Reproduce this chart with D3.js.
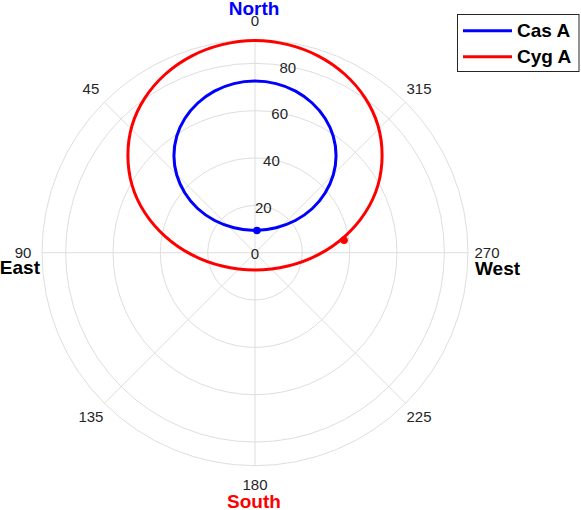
<!DOCTYPE html>
<html>
<head>
<meta charset="utf-8">
<script src="https://cdn.jsdelivr.net/npm/d3@7"></script>
<style>
  html, body { margin: 0; padding: 0; background: #fff; }
  svg { display: block; font-family: "Liberation Sans", Arial, Helvetica, sans-serif; }
</style>
</head>
<body>
<svg id="chart" width="581" height="510"></svg>
<script>
// ---- data (azimuth in degrees, counter-clockwise from North; zenith angle in degrees) ----
const azTicks = [0, 45, 90, 135, 180, 225, 270, 315];
const rTickLabels = [0, 20, 40, 60, 80];
const rGrid = [20, 40, 60, 80, 90];

const seriesNames = ["Cas A", "Cyg A"];
const seriesColors = ["#0000ff", "#ff0000"];

const casAz  = [0, 7.1, 14.1, 20.9, 27.6, 33.9, 39.9, 45.2, 49.6, 52.4, 51.4, 40.1, 0,
                319.9, 308.6, 307.6, 310.4, 314.8, 320.1, 326.1, 332.4, 339.1, 345.9, 352.9];
const casZen = [72.5, 72.0, 70.4, 67.7, 64.0, 59.3, 53.4, 46.6, 38.9, 30.6, 21.8, 13.8, 9.4,
                13.8, 21.8, 30.6, 38.9, 46.6, 53.4, 59.3, 64.0, 67.7, 70.4, 72.0];

const cygAz  = [0, 9.0, 17.9, 26.7, 35.5, 44.1, 52.6, 61.2, 70.0, 79.7, 91.8, 112.1, 180,
                247.9, 268.2, 280.3, 290.0, 298.8, 307.4, 315.9, 324.5, 333.3, 342.1, 351.0];
const cygZen = [89.7, 89.0, 87.3, 84.4, 80.2, 74.7, 67.6, 59.3, 49.6, 38.6, 26.8, 15.0, 7.3,
                15.0, 26.8, 38.6, 49.6, 59.3, 67.6, 74.7, 80.2, 84.4, 87.3, 89.0];

const casMarker = [355, 9.4];
const cygMarker = [278, 38];

const dirLabels = [
  {text: "North", az: 0,   color: "#0000ff"},
  {text: "East",  az: 90,  color: "#000000"},
  {text: "South", az: 180, color: "#ff0000"},
  {text: "West",  az: 270, color: "#000000"}
];

// ---- drawing ----
const svg = d3.select("#chart");
const cx = 255, cy = 252.7;
const r = d3.scaleLinear().domain([0, 90]).range([0, 213]);
const ang = d3.scaleLinear().domain([0, 360]).range([0, -2 * Math.PI]); // d3 radial: clockwise from top

const g = svg.append("g").attr("transform", `translate(${cx},${cy})`);
const gridColor = "#dedede";
const textColor = "#262626";

function xy(az, rv) {
  const a = ang(az);
  return [r(rv) * Math.sin(a), -r(rv) * Math.cos(a)];
}

// grid circles
g.selectAll("circle.grid").data(rGrid).join("circle")
  .attr("class", "grid").attr("r", d => r(d))
  .attr("fill", "none").attr("stroke", gridColor).attr("stroke-width", 1);

// radial spokes
g.selectAll("line.spoke").data(azTicks).join("line")
  .attr("class", "spoke")
  .attr("x1", 0).attr("y1", 0)
  .attr("x2", d => xy(d, 90)[0]).attr("y2", d => xy(d, 90)[1])
  .attr("stroke", gridColor).attr("stroke-width", 1);

// angle tick labels
g.selectAll("text.azt").data(azTicks).join("text")
  .attr("class", "azt")
  .attr("x", d => 232 * Math.sin(ang(d)))
  .attr("y", d => -232 * Math.cos(ang(d)))
  .attr("text-anchor", "middle").attr("dominant-baseline", "central")
  .attr("font-size", 15).attr("fill", textColor)
  .text(d => d);

// radial tick labels (along az = 350)
g.selectAll("text.rt").data(rTickLabels).join("text")
  .attr("class", "rt")
  .attr("x", d => xy(350, d)[0])
  .attr("y", d => xy(350, d)[1] + 1)
  .attr("text-anchor", "middle").attr("dominant-baseline", "central")
  .attr("font-size", 15).attr("fill", textColor)
  .text(d => d);

// direction labels
const dirPos = {
  "North": {x: -1, y: -237.5, anchor: "middle"},
  "South": {x: -1, y: 255, anchor: "middle"},
  "East":  {x: 40 - cx, y: 21, anchor: "end"},
  "West":  {x: 475 - cx, y: 22, anchor: "start"}
};
g.selectAll("text.dir").data(dirLabels).join("text")
  .attr("class", "dir")
  .attr("x", d => dirPos[d.text].x)
  .attr("y", d => dirPos[d.text].y)
  .attr("text-anchor", d => dirPos[d.text].anchor)
  .attr("font-size", 19).attr("font-weight", "bold")
  .attr("fill", d => d.color)
  .text(d => d.text);

// tracks
const radial = d3.lineRadial()
  .angle(d => ang(d[0]))
  .radius(d => r(d[1]))
  .curve(d3.curveCatmullRomClosed.alpha(0.5));

const tracks = [
  {pts: d3.zip(casAz, casZen), color: seriesColors[0], marker: casMarker},
  {pts: d3.zip(cygAz, cygZen), color: seriesColors[1], marker: cygMarker}
];

g.selectAll("path.track").data(tracks).join("path")
  .attr("class", "track")
  .attr("d", d => radial(d.pts))
  .attr("fill", "none").attr("stroke", d => d.color).attr("stroke-width", 3);

g.selectAll("circle.marker").data(tracks).join("circle")
  .attr("class", "marker")
  .attr("cx", d => xy(d.marker[0], d.marker[1])[0])
  .attr("cy", d => xy(d.marker[0], d.marker[1])[1])
  .attr("r", 3.8).attr("fill", d => d.color);

// legend
const lg = svg.append("g").attr("transform", "translate(457.5,14.5)");
lg.append("rect").attr("width", 121.5).attr("height", 57)
  .attr("fill", "#fff").attr("stroke", "#262626").attr("stroke-width", 1);
const items = lg.selectAll("g.item").data(seriesNames).join("g")
  .attr("class", "item")
  .attr("transform", (d, i) => `translate(0,${16.2 + i * 26})`);
items.append("line").attr("x1", 5.5).attr("x2", 54.5)
  .attr("stroke", (d, i) => seriesColors[i]).attr("stroke-width", 3);
items.append("text").attr("x", 59.5).attr("y", 0)
  .attr("dominant-baseline", "central")
  .attr("font-size", 19).attr("font-weight", "bold").attr("fill", "#000")
  .text(d => d);
</script>
</body>
</html>
